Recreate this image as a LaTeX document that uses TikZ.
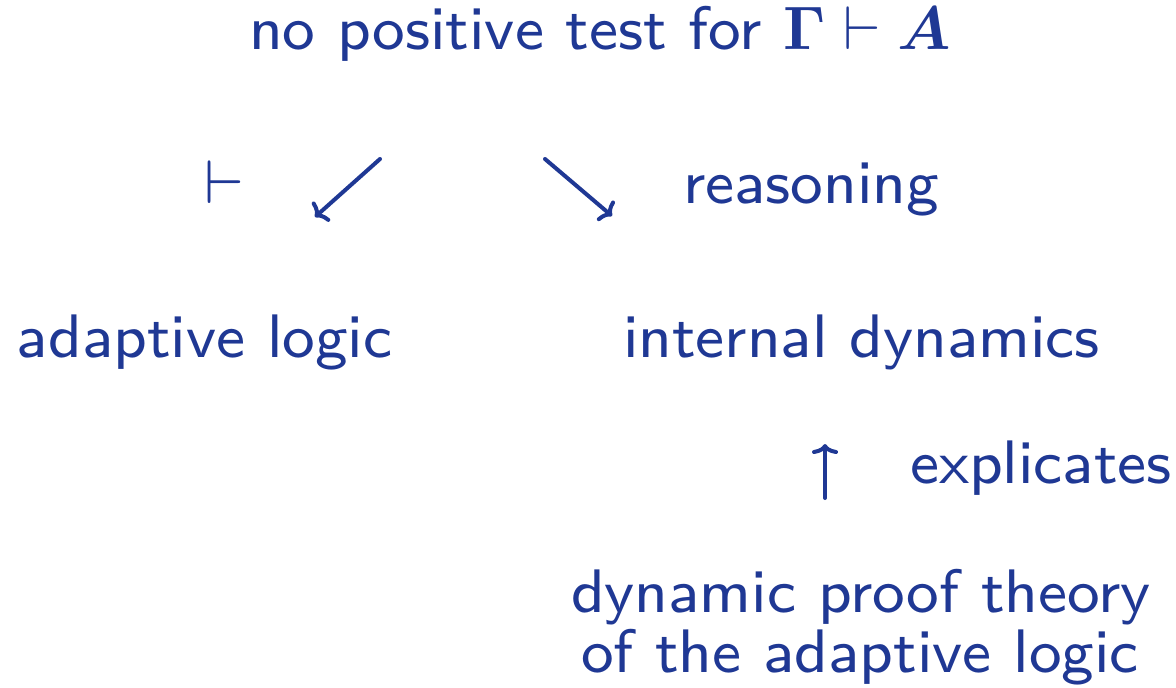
\RequirePackage{fix-cm}
\documentclass[tikz,border=0pt]{standalone}
\usepackage{amsmath,bm}
\usetikzlibrary{arrows.meta}
\definecolor{slideblue}{RGB}{31,56,148}
\newcommand{\smallmath}[1]{\scalebox{0.8}{\fontsize{10}{12}\selectfont$#1$}}
\begin{document}
\begin{tikzpicture}[x=0.5pt,y=-0.5pt,
  every node/.style={inner sep=0pt,outer sep=0pt,text=slideblue,font=\fontsize{8}{10}\selectfont\sffamily,scale=3.84,transform shape},
  txt/.style={anchor=base west},
  conn/.style={draw=slideblue,line width=2pt,line cap=round,-{To[length=5pt,width=13pt,line width=2pt]}}]
\useasboundingbox (0,0) rectangle (1176,687);
\node[txt] (title) at (249,49) {no positive test for \smallmath{\mathbf{\Gamma}\vdash\bm{A}}};
\node[txt] (turn) at (204,203) {$\vdash$};
\node[txt] (reas) at (683,203) {reasoning};
\node[txt] (al) at (17,357) {adaptive logic};
\node[txt] (id) at (623,357) {internal dynamics};
\node[txt] (expl) at (910,483) {explicates};
\node[txt] (dpt1) at (571,612) {dynamic proof theory};
\node[txt] (dpt2) at (581,672) {of the adaptive logic};
\coordinate (a1s) at (380,159);
\coordinate (a1e) at (315,217);
\coordinate (a2s) at (545,159);
\coordinate (a2e) at (612,216);
\coordinate (a3s) at (825,498);
\coordinate (a3e) at (825,444);
\draw[conn] (a1s) -- (a1e);
\draw[conn] (a2s) -- (a2e);
\draw[conn] (a3s) -- (a3e);
\end{tikzpicture}
\end{document}
